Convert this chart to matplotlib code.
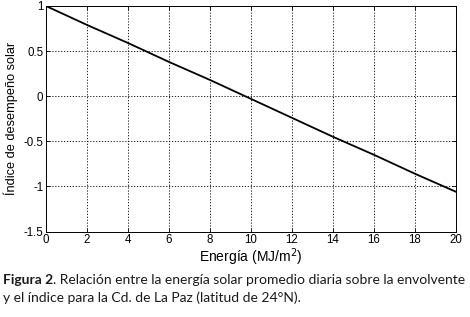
import numpy as np
import matplotlib.pyplot as plt

# Daten
energia = [0, 2, 4, 6, 8, 10, 12, 14, 16, 18, 20]
indice = [1.0, 0.79, 0.59, 0.38, 0.18, -0.03, -0.24, -0.45, -0.65, -0.86, -1.06]

x_ticks = [0, 2, 4, 6, 8, 10, 12, 14, 16, 18, 20]
y_ticks = [-1.5, -1, -0.5, 0, 0.5, 1]
y_tick_labels = ["-1.5", "-1", "-0.5", "0", "0.5", "1"]

caption_bold = "Figura 2"
caption_1 = ". Relación entre la energía solar promedio diaria sobre la envolvente"
caption_2 = "y el índice para la Cd. de La Paz (latitud de 24°N)."

plt.rcParams['font.family'] = ['Liberation Sans', 'DejaVu Sans']
plt.rcParams['axes.unicode_minus'] = False

fig = plt.figure(figsize=(4.70, 3.17), dpi=100)
W, H = 470, 317
ax = fig.add_axes([46 / W, 1 - 231.5 / H, (456 - 46) / W, (231.5 - 6) / H])

ax.plot(energia, indice, color='black', linewidth=1.3)
ax.set_xlim(0, 20)
ax.set_ylim(-1.5, 1)
ax.set_xticks(x_ticks)
ax.set_yticks(y_ticks)
ax.set_yticklabels(y_tick_labels)
ax.tick_params(direction='in', length=3, labelsize=8.3, width=0.6, pad=2,
               top=True, right=True)
ax.grid(True, color='black', linestyle=(0, (1.5, 2)), linewidth=0.6)
for s in ax.spines.values():
    s.set_linewidth(0.7)

ax.set_xlabel("Energía (MJ/m$^2$)", fontsize=10, labelpad=0)
ax.set_ylabel("Índice de desempeño solar", fontsize=9.2, labelpad=4)

# Bildunterschrift: Schriftgröße so wählen, dass Zeile 1 von x=3 bis x=466 reicht
cap_font = ['Lato', 'DejaVu Sans']
fs = 10.0
renderer = fig.canvas.get_renderer()
tb = fig.text(0, 0, caption_bold, fontsize=fs, fontweight='bold', family=cap_font)
tn = fig.text(0, 0, caption_1, fontsize=fs, family=cap_font)
breite = tb.get_window_extent(renderer).width + tn.get_window_extent(renderer).width
tb.remove()
tn.remove()
fs = fs * 463 / breite

t1 = fig.text(3 / W, 1 - 284 / H, caption_bold, fontsize=fs, fontweight='bold',
              family=cap_font, color='#1a1a1a')
bb = t1.get_window_extent(renderer)
fig.text(bb.x1 / W, 1 - 284 / H, caption_1, fontsize=fs, family=cap_font, color='#1a1a1a')
fig.text(3 / W, 1 - 302 / H, caption_2, fontsize=fs, family=cap_font, color='#1a1a1a')

fig.savefig("out.png", dpi=100)
